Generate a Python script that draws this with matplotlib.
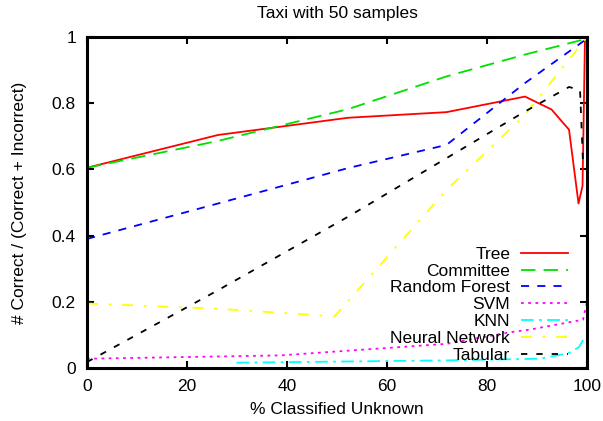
import matplotlib.pyplot as plt

plt.rcParams['font.family'] = ['Liberation Sans', 'DejaVu Sans']
plt.rcParams['font.size'] = 12.5

# values
tree_x = [0, 26.2, 52.2, 71.9, 87.6, 92.9, 96.4, 98.3, 99.1, 99.6]
tree_y = [0.605, 0.704, 0.756, 0.773, 0.82, 0.781, 0.72, 0.497, 0.55, 1.0]

committee_x = [0, 26.2, 52.2, 71.9, 87.6, 100]
committee_y = [0.605, 0.686, 0.782, 0.881, 0.947, 0.995]

forest_x = [0, 26.2, 52.2, 71.9, 87.6, 100]
forest_y = [0.39, 0.497, 0.604, 0.674, 0.861, 0.995]

svm_x = [0, 38.6, 71.9, 84.6, 88.6, 99.2, 100]
svm_y = [0.028, 0.038, 0.073, 0.108, 0.116, 0.146, 0.2]

knn_x = [29.9, 71.9, 90.6, 96.3, 98.4, 99.6]
knn_y = [0.016, 0.023, 0.028, 0.045, 0.063, 0.095]

nn_x = [0, 26.2, 49.5, 71.9, 87.6, 100]
nn_y = [0.195, 0.179, 0.156, 0.538, 0.765, 1.0]

tab_x = [0, 26.2, 52.2, 71.9, 87.6, 96.4, 98.6, 99.2]
tab_y = [0.018, 0.235, 0.457, 0.634, 0.775, 0.849, 0.84, 0.62]

fig = plt.figure(figsize=(6.03, 4.21), dpi=100)
ax = fig.add_axes([0.1443, 0.1259, 0.8292, 0.7862])

lw = 1.3
ax.plot(tree_x, tree_y, color='#ff0000', lw=lw, label='Tree')
ax.plot(committee_x, committee_y, color='#00e000', lw=lw, dashes=(8, 4.5), label='Committee')
ax.plot(forest_x, forest_y, color='#0000ff', lw=lw, dashes=(4.5, 4.5), label='Random Forest')
ax.plot(svm_x, svm_y, color='#ff00ff', lw=lw, dashes=(1.5, 2.5), label='SVM')
ax.plot(knn_x, knn_y, color='#00ffff', lw=lw, dashes=(7, 3, 1.5, 3), label='KNN')
ax.plot(nn_x, nn_y, color='#ffff00', lw=lw, dashes=(6, 6, 1.5, 6), label='Neural Network')
ax.plot(tab_x, tab_y, color='#000000', lw=lw, dashes=(3.5, 5), label='Tabular')

ax.set_xlim(0, 100)
ax.set_ylim(0, 1)
ax.set_xticks([0, 20, 40, 60, 80, 100])
ax.set_yticks([0, 0.2, 0.4, 0.6, 0.8, 1.0])
ax.set_yticklabels(['0', '0.2', '0.4', '0.6', '0.8', '1'])
ax.tick_params(direction='in', length=5, width=1.5, top=True, right=True, pad=8)
for s in ax.spines.values():
    s.set_linewidth(2.2)

ax.set_title('Taxi with 50 samples', fontsize=12.5, pad=14)
ax.set_xlabel('% Classified Unknown', labelpad=6)
ax.set_ylabel('# Correct / (Correct + Incorrect)', labelpad=18)

ax.legend(loc='lower right', bbox_to_anchor=(0.962, 0.015), frameon=False,
          markerfirst=False, handlelength=2.7, handletextpad=0.63,
          labelspacing=0.1, borderpad=0, borderaxespad=0)

fig.savefig('out.png', dpi=100)
